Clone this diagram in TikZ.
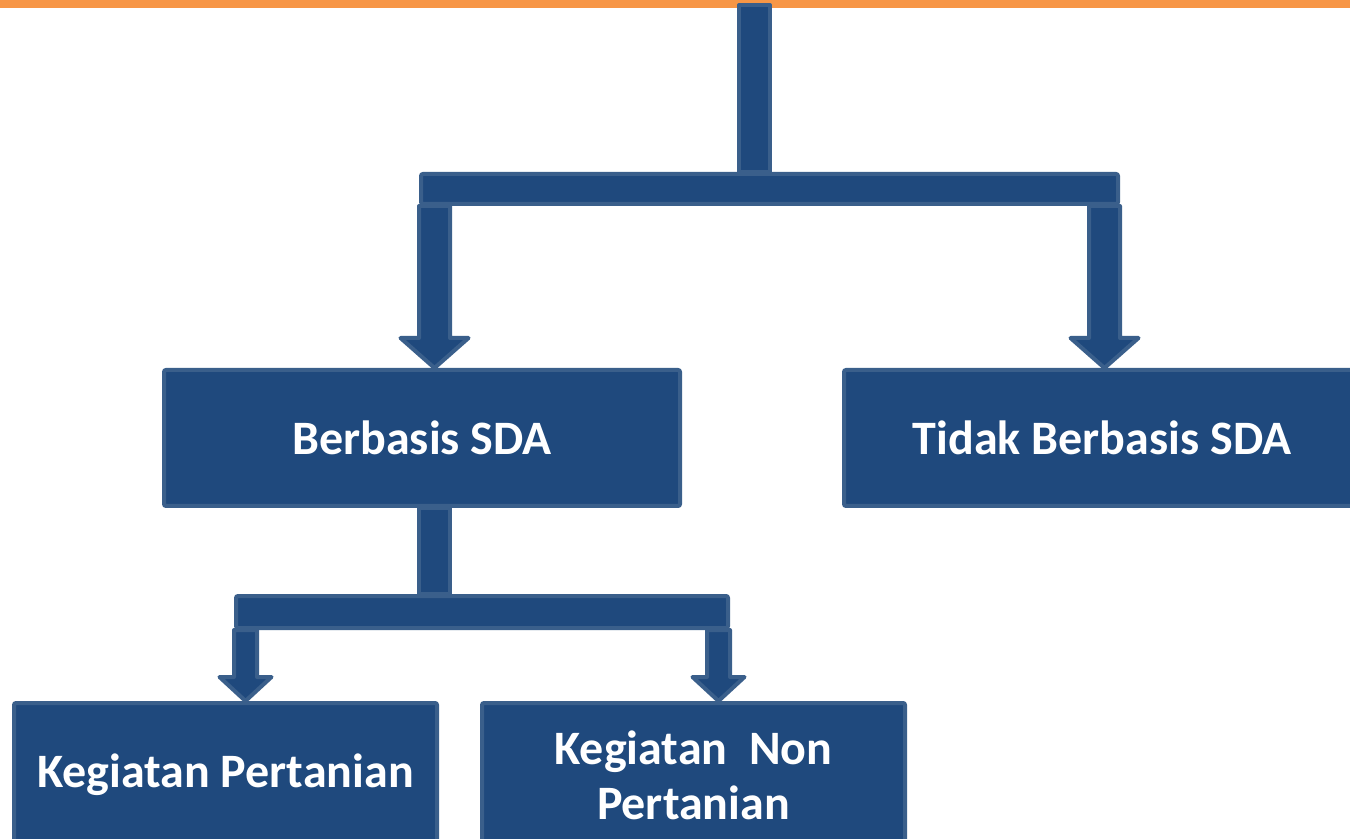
\documentclass[tikz,border=0pt]{standalone}
\usepackage{fontspec}
\setmainfont{Carlito}
\usetikzlibrary{calc,backgrounds}
\definecolor{biru}{HTML}{1F497D}
\definecolor{birugaris}{HTML}{3A5F8B}
\definecolor{oranye}{HTML}{F79646}
\tikzset{
  kotak/.style={draw=birugaris, fill=biru, line width=2pt, rounded corners=1pt,
    text=white, align=center, inner sep=0pt, font=\fontsize{24}{27.5}\selectfont\bfseries},
  blok/.style={draw=birugaris, fill=biru, line width=2pt, line join=round},
}
\begin{document}
\begin{tikzpicture}[x=0.5pt, y=-0.5pt]
  \useasboundingbox (0,0) rectangle (1350,839);

  % Kotak kategori
  \node[kotak, minimum width=258pt, minimum height=68pt] (sda) at (422,438) {Berbasis SDA};
  \node[kotak, minimum width=258pt, minimum height=68pt] (nonsda) at (1102,438) {Tidak Berbasis SDA};
  \node[kotak, minimum width=211.5pt, minimum height=72pt] (tani) at (225.5,775) {Kegiatan Pertanian};
  \node[kotak, minimum width=211.5pt, minimum height=72pt] (nontani) at (693.5,775) {Kegiatan\ \ Non\\Pertanian};

  % Palang penghubung
  \node[kotak, minimum width=348.5pt, minimum height=15pt] (palang1) at (769.5,189) {};
  \node[kotak, minimum width=246pt, minimum height=16pt] (palang2) at (482,612) {};

  \begin{scope}[on background layer]
    % Garis oranye di atas
    \fill[oranye] (0,0) rectangle (1350,8);

    % Batang dari atas ke palang pertama
    \coordinate (puncak) at (754.5,5);
    \draw[blok] ($(puncak)+(-15.5,0)$) rectangle ($(puncak |- palang1.north)+(15.5,0)$);

    % Panah ke Berbasis SDA
    \coordinate (p1) at ($(palang1.south west)+(15.5,0)$);
    \coordinate (u1) at (p1 |- sda.north);
    \draw[blok] ($(p1)+(-15.5,0)$) -- ($(u1)+(-15.5,-30)$) -- ($(u1)+(-34,-30)$) -- (u1)
      -- ($(u1)+(34,-30)$) -- ($(u1)+(15.5,-30)$) -- ($(p1)+(15.5,0)$) -- cycle;

    % Panah ke Tidak Berbasis SDA
    \coordinate (p2) at ($(palang1.south east)+(-15.5,0)$);
    \coordinate (u2) at (p2 |- nonsda.north);
    \draw[blok] ($(p2)+(-15.5,0)$) -- ($(u2)+(-15.5,-30)$) -- ($(u2)+(-34,-30)$) -- (u2)
      -- ($(u2)+(34,-30)$) -- ($(u2)+(15.5,-30)$) -- ($(p2)+(15.5,0)$) -- cycle;

    % Batang dari Berbasis SDA ke palang kedua
    \coordinate (p5) at (p1 |- sda.south);
    \draw[blok] ($(p5)+(-15.5,0)$) rectangle ($(p5 |- palang2.north)+(15.5,0)$);

    % Panah ke Kegiatan Pertanian
    \coordinate (p3) at ($(palang2.south west)+(11.5,0)$);
    \coordinate (u3) at (p3 |- tani.north);
    \draw[blok] ($(p3)+(-11.5,0)$) -- ($(u3)+(-11.5,-24)$) -- ($(u3)+(-26,-24)$) -- (u3)
      -- ($(u3)+(26,-24)$) -- ($(u3)+(11.5,-24)$) -- ($(p3)+(11.5,0)$) -- cycle;

    % Panah ke Kegiatan Non Pertanian
    \coordinate (p4) at ($(palang2.south east)+(-11.5,0)$);
    \coordinate (u4) at (p4 |- nontani.north);
    \draw[blok] ($(p4)+(-11.5,0)$) -- ($(u4)+(-11.5,-24)$) -- ($(u4)+(-26,-24)$) -- (u4)
      -- ($(u4)+(26,-24)$) -- ($(u4)+(11.5,-24)$) -- ($(p4)+(11.5,0)$) -- cycle;
  \end{scope}
\end{tikzpicture}
\end{document}
